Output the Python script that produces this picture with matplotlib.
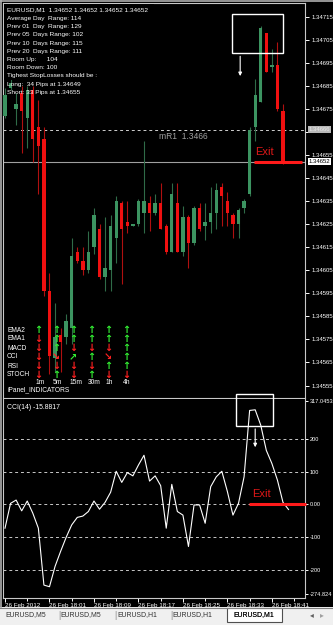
import matplotlib
matplotlib.use("Agg")
import matplotlib.pyplot as plt
from matplotlib import font_manager
from matplotlib.patches import Rectangle
import numpy as np

W, H = 333, 625

# EURUSD M1, 26 Feb 2012, one bar per minute starting 17:53
opens = [1.34672, 1.34684, 1.34675, 1.34682, 1.34671, 1.34683, 1.34667, 1.34662, 1.34596, 1.34567,
         1.34577, 1.34576, 1.34580, 1.34613, 1.34609, 1.34605, 1.34615, 1.34623, 1.34602, 1.34605,
         1.34619, 1.34634, 1.34626, 1.34624, 1.34625, 1.34630, 1.34634, 1.34630, 1.34634, 1.34624,
         1.34613, 1.34634, 1.34613, 1.34628, 1.34617, 1.34632, 1.34624, 1.34626, 1.34630, 1.34641,
         1.34635, 1.34629, 1.34625, 1.34632, 1.34638, 1.34667, 1.34678, 1.34708, 1.34693, 1.34694,
         1.34674, 1.34652]
highs = [1.34684, 1.34688, 1.34682, 1.34685, 1.34685, 1.34685, 1.34679, 1.34667, 1.34604, 1.34591,
         1.34580, 1.34586, 1.34619, 1.34615, 1.34615, 1.34622, 1.34632, 1.34625, 1.34628, 1.34629,
         1.34637, 1.34635, 1.34635, 1.34625, 1.34636, 1.34661, 1.34637, 1.34638, 1.34643, 1.34625,
         1.34643, 1.34643, 1.34633, 1.34629, 1.34633, 1.34634, 1.34634, 1.34641, 1.34643, 1.34643,
         1.34639, 1.34630, 1.34632, 1.34636, 1.34667, 1.34688, 1.34711, 1.34708, 1.34701, 1.34704,
         1.34677, 1.34652]
lows = [1.34671, 1.34683, 1.34668, 1.34656, 1.34658, 1.34652, 1.34638, 1.34594, 1.34560, 1.34561,
        1.34561, 1.34573, 1.34573, 1.34608, 1.34603, 1.34604, 1.34612, 1.34601, 1.34596, 1.34596,
        1.34608, 1.34599, 1.34621, 1.34624, 1.34624, 1.34621, 1.34622, 1.34629, 1.34623, 1.34612,
        1.34613, 1.34613, 1.34611, 1.34606, 1.34616, 1.34622, 1.34618, 1.34621, 1.34623, 1.34624,
        1.34624, 1.34619, 1.34619, 1.34630, 1.34637, 1.34661, 1.34678, 1.34691, 1.34691, 1.34674,
        1.34651, 1.34652]
closes = [1.34681, 1.34686, 1.34677, 1.34674, 1.34683, 1.34662, 1.34659, 1.34596, 1.34568, 1.34576,
          1.34574, 1.34583, 1.34611, 1.34609, 1.34605, 1.34613, 1.34629, 1.34602, 1.34606, 1.34624,
          1.34635, 1.34623, 1.34624, 1.34625, 1.34635, 1.34635, 1.34630, 1.34634, 1.34623, 1.34613,
          1.34638, 1.34613, 1.34628, 1.34617, 1.34632, 1.34623, 1.34626, 1.34630, 1.34640, 1.34637,
          1.34630, 1.34625, 1.34631, 1.34635, 1.34666, 1.34681, 1.34710, 1.34691, 1.34694, 1.34675,
          1.34652, 1.34652]

cci = [-73, 3, 13, -20, 10, -27, -73, -247, -252, -190, -144, -101, -63, -40, -36, -22, 10, -15,
       6, 37, 101, 67, 97, 87, 120, 150, 71, 87, 57, -73, 61, -22, -33, -129, -2, -2, -58, 54,
       84, 101, 39, -33, 3, 84, 287, 289, 242, 165, 125, 74, 6, -15.8817]

date_labels = ["26 Feb 2012", "26 Feb 18:01", "26 Feb 18:09", "26 Feb 18:17",
               "26 Feb 18:25", "26 Feb 18:33", "26 Feb 18:41"]
date_bars = [0, 8, 16, 24, 32, 40, 48]

price_ticks = np.round(np.arange(1.34555, 1.347151, 0.0001), 5)
cci_ticks = [317.0453, 200, 100, 0, -100, -200, -274.824]
cci_ticklabels = ["317.0453", "200", "100", "0.00", "-100", "-200", "-274.824"]
cci_levels = [200, 100, 0, -100, -200]

mr1_price = 1.34666
bid_price = 1.34652

info_lines = [
    "EURUSD,M1  1.34652 1.34652 1.34652 1.34652",
    "Average Day  Range: 114",
    "Prev 01  Day  Range: 129",
    "Prev 05  Days Range: 102",
    "Prev 10  Days Range: 115",
    "Prev 20  Days Range: 111",
    "Room Up:      104",
    "Room Down: 100",
    "Tighest StopLosses should be :",
    "Long:  34 Pips at 1.34649",
    "Short: 33 Pips at 1.34655",
]

ind_rows = ["EMA2", "EMA1", "MACD", "CCI", "RSI", "STOCH"]
ind_tfs = ["1m", "5m", "15m", "30m", "1h", "4h"]
ind_signals = [
    ["u", "u", "u", "u", "u", "u"],
    ["d", "u", "u", "u", "u", "u"],
    ["d", "u", "d", "d", "d", "u"],
    ["d", "se", "ne", "u", "se", "u"],
    ["d", "d", "d", "d", "u", "u"],
    ["d", "u", "d", "u", "d", "d"],
]

tabs = ["EURUSD,M5", "EURUSD,M5", "EURUSD,H1", "EURUSD,H1", "EURUSD,M1"]

# ---- fonts ----
names = {f.name for f in font_manager.fontManager.ttflist}
narrow = "Liberation Sans Narrow" in names
base = "Liberation Sans Narrow" if narrow else "Liberation Sans"
plt.rcParams["font.family"] = [base, "DejaVu Sans"]
k = 1.0 if narrow else 0.82

bull, bear = "#3c9461", "#f01010"
wick_up, wick_dn = "#2f6b48", "#b01010"
frame = "#c8c8c8"


def frac(x0, y0, x1, y1):
    return [x0 / W, 1 - y1 / H, (x1 - x0) / W, (y1 - y0) / H]


fig = plt.figure(figsize=(W / 100, H / 100), dpi=100, facecolor="black")

# ---------------- main price panel ----------------
ax = fig.add_axes(frac(3, 3, 305, 398), facecolor="black")
x = np.arange(len(opens))
o, h, l, c = map(np.array, (opens, highs, lows, closes))
up = c >= o
lo = np.minimum(o, c)
bh = np.maximum(np.abs(c - o), 0.000004)
ax.vlines(x[up], l[up], h[up], color=wick_up, lw=0.8, zorder=2)
ax.vlines(x[~up], l[~up], h[~up], color=wick_dn, lw=0.8, zorder=2)
ax.bar(x[up], bh[up], bottom=lo[up], width=0.6, color=bull, lw=0, zorder=3)
ax.bar(x[~up], bh[~up], bottom=lo[~up], width=0.6, color=bear, lw=0, zorder=3)

ax.axhline(mr1_price, color="#d0d0d0", lw=0.7, ls=(0, (3, 3)), zorder=1)
ax.axhline(bid_price, color="#a0a0a0", lw=0.8, zorder=1)
ax.text(27.7, mr1_price - 0.00001, "mR1  1.3466", color="#a0a0a0", fontsize=7.5 * k,
        ha="left", va="top")

ax.set_xlim(-0.36, 53.96)
ax.set_ylim(1.345496, 1.347209)
ax.set_xticks([])
ax.yaxis.tick_right()
ax.set_yticks(price_ticks)
# the 1.34665 slot is covered by the mR1 price box
ax.set_yticklabels(["" if abs(p - 1.34665) < 1e-7 else f"{p:.5f}" for p in price_ticks])
ax.tick_params(axis="y", colors="white", length=3, width=0.7, labelsize=5.3 * k, pad=1.5)
for s in ax.spines.values():
    s.set_color(frame)
    s.set_linewidth(0.8)

# exit marker + highlight box
ax.plot([44.8, 53.4], [bid_price, bid_price], color="#ff1a1a", lw=2.2, zorder=4,
        solid_capstyle="butt")
ax.text(45.0, 1.34654, "Exit", color="#e01818", fontsize=8, ha="left", va="bottom")
ax.add_patch(Rectangle((40.8, 1.34699), 9.2, 0.00017, fill=False, ec="white", lw=1, zorder=5))
ax.annotate("", xy=(42.3, 1.34688), xytext=(42.3, 1.34699),
            arrowprops=dict(arrowstyle="-|>", color="white", lw=0.8, mutation_scale=5))

ax.annotate("1.34666", xy=(1, mr1_price), xycoords=("axes fraction", "data"),
            xytext=(2.5, 0), textcoords="offset points", va="center", ha="left",
            fontsize=5.3 * k, color="#e8e8e8", annotation_clip=False, zorder=6,
            bbox=dict(boxstyle="square,pad=0.15", fc="#b8b8b8", ec="none"))
ax.annotate(f"{bid_price:.5f}", xy=(1, bid_price), xycoords=("axes fraction", "data"),
            xytext=(2.5, 0), textcoords="offset points", va="center", ha="left",
            fontsize=5.3 * k, color="black", annotation_clip=False, zorder=6,
            bbox=dict(boxstyle="square,pad=0.15", fc="white", ec="none"))

# ---------------- CCI panel ----------------
cx = fig.add_axes(frac(3, 399, 305, 598), facecolor="black")
for lv in cci_levels:
    cx.axhline(lv, color="#c8c8c8", lw=0.7, ls=(0, (3, 3)), zorder=1)
cx.plot(np.arange(len(cci)), cci, color="white", lw=0.8, zorder=3)
cx.set_xlim(-0.36, 53.96)
cx.set_ylim(-286.5, 322)
cx.yaxis.tick_right()
cx.set_yticks(cci_ticks)
cx.set_yticklabels(cci_ticklabels)
cx.tick_params(axis="y", colors="white", length=2.5, width=0.7, labelsize=4.9 * k, pad=1.0)
cx.set_xticks(date_bars)
cx.set_xticklabels(date_labels, ha="left")
cx.set_xticks([b + 4 for b in date_bars], minor=True)
cx.tick_params(axis="x", which="both", colors="white", length=3, width=0.7,
               labelsize=5.5 * k, pad=0.5)
cx.tick_params(axis="x", which="minor", length=2)
for s in cx.spines.values():
    s.set_color(frame)
    s.set_linewidth(0.8)
cx.spines["top"].set_visible(False)

cx.plot([43.9, 54.1], [0, 0], color="#ff1a1a", lw=2.2, zorder=4, solid_capstyle="butt",
        clip_on=False)
cx.text(44.4, 16, "Exit", color="#e01818", fontsize=8, ha="left", va="bottom")
cx.add_patch(Rectangle((41.5, 239), 6.7, 98, fill=False, ec="white", lw=1, zorder=5,
                       clip_on=False))
cx.annotate("", xy=(45.0, 166), xytext=(45.0, 239),
            arrowprops=dict(arrowstyle="-|>", color="white", lw=0.8, mutation_scale=5))
cx.text(0.013, 0.975, f"CCI(14) {cci[-1]:.4f}", transform=cx.transAxes, color="white",
        fontsize=6.0 * k, ha="left", va="top")

# ---------------- overlay: panels, labels, tab strip ----------------
ov = fig.add_axes([0, 0, 1, 1], zorder=10)
ov.set_xlim(0, W)
ov.set_ylim(H, 0)
ov.axis("off")
ov.patch.set_alpha(0)

ov.add_patch(Rectangle((3.5, 3.5), 150, 76, fc="black", ec="none"))
for i, line in enumerate(info_lines):
    ov.text(7, 10 + i * 8.25, line, color="white", fontsize=5.7 * k, ha="left", va="center")

col_x = [38, 56, 73, 91, 108, 126]
tf_x = [40, 57, 76, 94, 109, 127]
glyph = {"u": ("\u2191", "#33ee33"), "d": ("\u2193", "#ff2020"),
         "ne": ("\u2197", "#33ee33"), "se": ("\u2198", "#ff2020")}
for r, name in enumerate(ind_rows):
    yy = 330 + r * 9
    ov.text(7, yy, name, color="white", fontsize=5.8 * k, ha="left", va="center")
    for cidx, sig in enumerate(ind_signals[r]):
        g, col = glyph[sig]
        ov.text(col_x[cidx], yy, g, color=col, fontsize=7, fontweight="bold",
                family="DejaVu Sans", ha="center", va="center")
for cidx, tf in enumerate(ind_tfs):
    ov.text(tf_x[cidx], 383, tf, color="white", fontsize=5.8 * k, ha="center", va="center")
ov.text(7, 390, "iPanel_INDICATORS", color="white", fontsize=5.8 * k, ha="left", va="center")

# window frame
ov.plot([0, W], [1, 1], color="#b0b0b0", lw=1.2)
ov.plot([1, 1], [0, 607], color="#b0b0b0", lw=1.2)

# tab strip
ov.add_patch(Rectangle((0, 607), W, 18, fc="#f0f0f0", ec="none"))
ov.plot([0, W], [607.5, 607.5], color="#808080", lw=0.8)
tab_x = [26, 81, 137, 192, 254]
for i, t in enumerate(tabs):
    ov.text(tab_x[i], 615, t, color="#303030", fontsize=6.0 * k, ha="center", va="center")
for sx in [59, 115, 171]:
    ov.text(sx, 615, "|", color="#909090", fontsize=6.5, ha="center", va="center")
ov.add_patch(Rectangle((227, 607.5), 55, 14.5, fc="white", ec="#505050", lw=0.8))
ov.text(254, 615, tabs[-1], color="black", fontsize=6.0 * k, ha="center", va="center")
ov.text(312, 615, "\u25c2", color="#606060", fontsize=5.5, family="DejaVu Sans",
        ha="center", va="center")
ov.text(322, 615, "\u25b8", color="#a0a0a0", fontsize=5.5, family="DejaVu Sans",
        ha="center", va="center")

fig.savefig("out.png", dpi=100, facecolor=fig.get_facecolor())
